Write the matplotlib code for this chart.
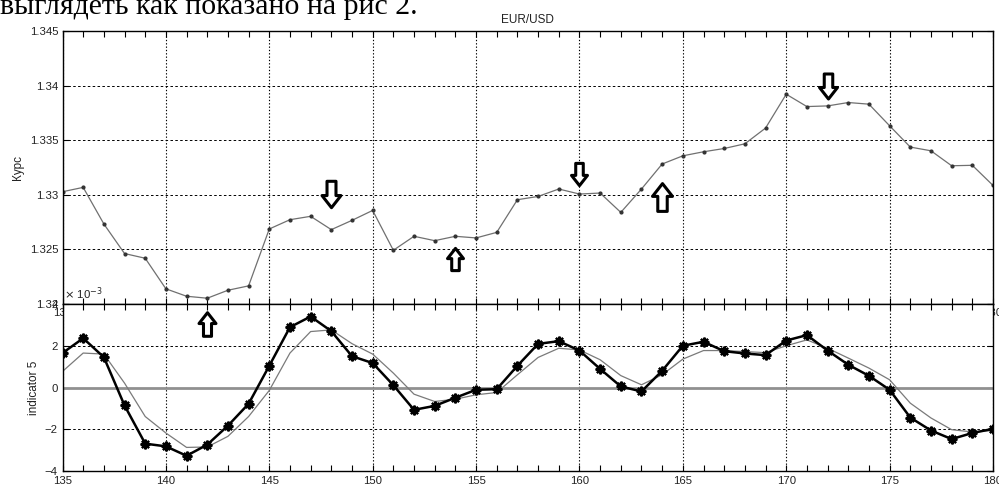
import numpy as np
import matplotlib
matplotlib.use("Agg")
import matplotlib.pyplot as plt
from matplotlib.path import Path
from matplotlib.ticker import MultipleLocator, FormatStrFormatter

plt.rcParams['font.family'] = ['Liberation Sans', 'DejaVu Sans']

# x positions (bars / samples)
x = list(range(135, 181))

# EUR/USD rate
rate = [1.33028, 1.33068, 1.32733, 1.32462, 1.32419, 1.32139, 1.32071, 1.32053,
        1.32126, 1.32166, 1.32687, 1.32772, 1.32803, 1.32681, 1.32766, 1.32857,
        1.32492, 1.32620, 1.32580, 1.32620, 1.32605, 1.32656, 1.32955, 1.32985,
        1.33053, 1.33007, 1.33016, 1.32839, 1.33053, 1.33282, 1.33357, 1.33394,
        1.33424, 1.33467, 1.33611, 1.33921, 1.33808, 1.33814, 1.33845, 1.33830,
        1.33632, 1.33437, 1.33403, 1.33266, 1.33270, 1.33086]

# indicator 5 (x 10^-3)
indicator = [1.65, 2.36, 1.45, -0.86, -2.69, -2.82, -3.27, -2.74, -1.83, -0.78,
             1.04, 2.89, 3.40, 2.70, 1.50, 1.17, 0.11, -1.07, -0.88, -0.49,
             -0.11, -0.08, 1.04, 2.09, 2.22, 1.77, 0.89, 0.05, -0.19, 0.80,
             2.00, 2.19, 1.74, 1.63, 1.55, 2.25, 2.51, 1.77, 1.09, 0.56,
             -0.11, -1.44, -2.06, -2.47, -2.18, -1.98]

# smoothed indicator (x 10^-3)
signal = [0.77, 1.65, 1.60, 0.21, -1.39, -2.18, -2.87, -2.85, -2.34, -1.39,
          -0.14, 1.65, 2.68, 2.76, 2.10, 1.60, 0.69, -0.32, -0.67, -0.56,
          -0.35, -0.24, 0.61, 1.44, 1.88, 1.80, 1.33, 0.57, 0.13, 0.61,
          1.36, 1.77, 1.77, 1.72, 1.67, 2.00, 2.28, 1.88, 1.41, 0.93,
          0.37, -0.75, -1.46, -2.02, -2.13, -2.06]

# signal arrows on the price chart
down_x = [148, 160, 172]
down_y = [1.33006, 1.33188, 1.33995]
down_size = [19, 16, 18]
up_x = [154, 164]
up_y = [1.32409, 1.32980]
up_size = [16, 20]
# this one sits inside the lower panel
up2_x = [142]
up2_y = [3.02]

down_arrow = Path([(-0.17, 0.5), (0.17, 0.5), (0.17, -0.04), (0.36, -0.04),
                   (0.0, -0.5), (-0.36, -0.04), (-0.17, -0.04), (-0.17, 0.5)],
                  closed=True)
up_arrow = Path([(vx, -vy) for vx, vy in down_arrow.vertices], closed=True)

fig = plt.figure(figsize=(9.99, 4.86), dpi=100)
W, H = 999.0, 486.0
left, right = 62.5, 993.0

ax1 = fig.add_axes([left / W, 1 - 304 / H, (right - left) / W, (304 - 31) / H])
ax2 = fig.add_axes([left / W, 1 - 471 / H, (right - left) / W, (471 - 304) / H])
ax2.set_zorder(3)

xgrid_kw = dict(color='black', linestyle=(0, (1.2, 1.8)), linewidth=0.8)
ygrid_kw = dict(color='black', linestyle=(0, (2.6, 2.4)), linewidth=0.7)
tick_kw = dict(direction='in', top=True, right=True, length=4, width=0.8,
               labelsize=8.2, colors='black', labelcolor='#222222')

# --- price panel ---
ax1.plot(x, rate, color='#707070', lw=0.9, marker='.', markersize=4,
         mfc='#333333', mec='#333333')
for xi, yi, s in zip(down_x, down_y, down_size):
    ax1.plot(xi, yi, marker=down_arrow, markersize=s, mfc='white',
             mec='black', mew=2.2, ls='none')
for xi, yi, s in zip(up_x, up_y, up_size):
    ax1.plot(xi, yi, marker=up_arrow, markersize=s, mfc='white',
             mec='black', mew=2.2, ls='none')
ax1.set_xlim(135, 180)
ax1.set_ylim(1.32, 1.345)
ax1.xaxis.set_major_locator(MultipleLocator(5))
ax1.xaxis.set_minor_locator(MultipleLocator(1))
ax1.yaxis.set_major_locator(MultipleLocator(0.005))
ax1.yaxis.set_major_formatter(FormatStrFormatter('%g'))
ax1.tick_params(which='both', pad=3, **tick_kw)
ax1.xaxis.grid(True, which='major', **xgrid_kw)
ax1.yaxis.grid(True, which='major', **ygrid_kw)
ax1.set_axisbelow(True)
ax1.set_title('EUR/USD', fontsize=8.5, pad=6, color='#222222')
ax1.set_ylabel('Курс', fontsize=8.5, labelpad=4, color='#222222')

# --- indicator panel ---
ax2.axhline(0, color='#909090', lw=2, zorder=1.5)
ax2.plot(x, signal, color='#7a7a7a', lw=0.9, zorder=2)
ax2.plot(x, indicator, color='black', lw=1.8, marker=(8, 2, 0), markersize=7,
         mfc='black', mec='black', mew=1.6, zorder=3)
for xi, yi in zip(up2_x, up2_y):
    ax2.plot(xi, yi, marker=up_arrow, markersize=17, mfc='white',
             mec='black', mew=2.2, ls='none', zorder=4)
ax2.set_xlim(135, 180)
ax2.set_ylim(-4, 4)
ax2.xaxis.set_major_locator(MultipleLocator(5))
ax2.xaxis.set_minor_locator(MultipleLocator(1))
ax2.yaxis.set_major_locator(MultipleLocator(2))
ax2.tick_params(which='both', pad=3.5, **tick_kw)
ax2.xaxis.grid(True, which='major', **xgrid_kw)
ax2.yaxis.grid(True, which='major', **ygrid_kw)
ax2.set_axisbelow(True)
ax2.set_ylabel('indicator 5', fontsize=8.5, labelpad=3, color='#222222')
ax2.text(0.002, 1.01, r'$\times$ 10$^{-3}$', transform=ax2.transAxes,
         fontsize=8.2, ha='left', va='bottom', color='#222222')

for ax in (ax1, ax2):
    for sp in ax.spines.values():
        sp.set_linewidth(1.0)

# cropped caption line from the source document
fig.text(418 / W, 1 - 14 / H, 'выглядеть как показано на рис 2.',
         fontsize=21.5, family='Liberation Serif', ha='right', va='baseline')

fig.savefig('out.png', dpi=100)
